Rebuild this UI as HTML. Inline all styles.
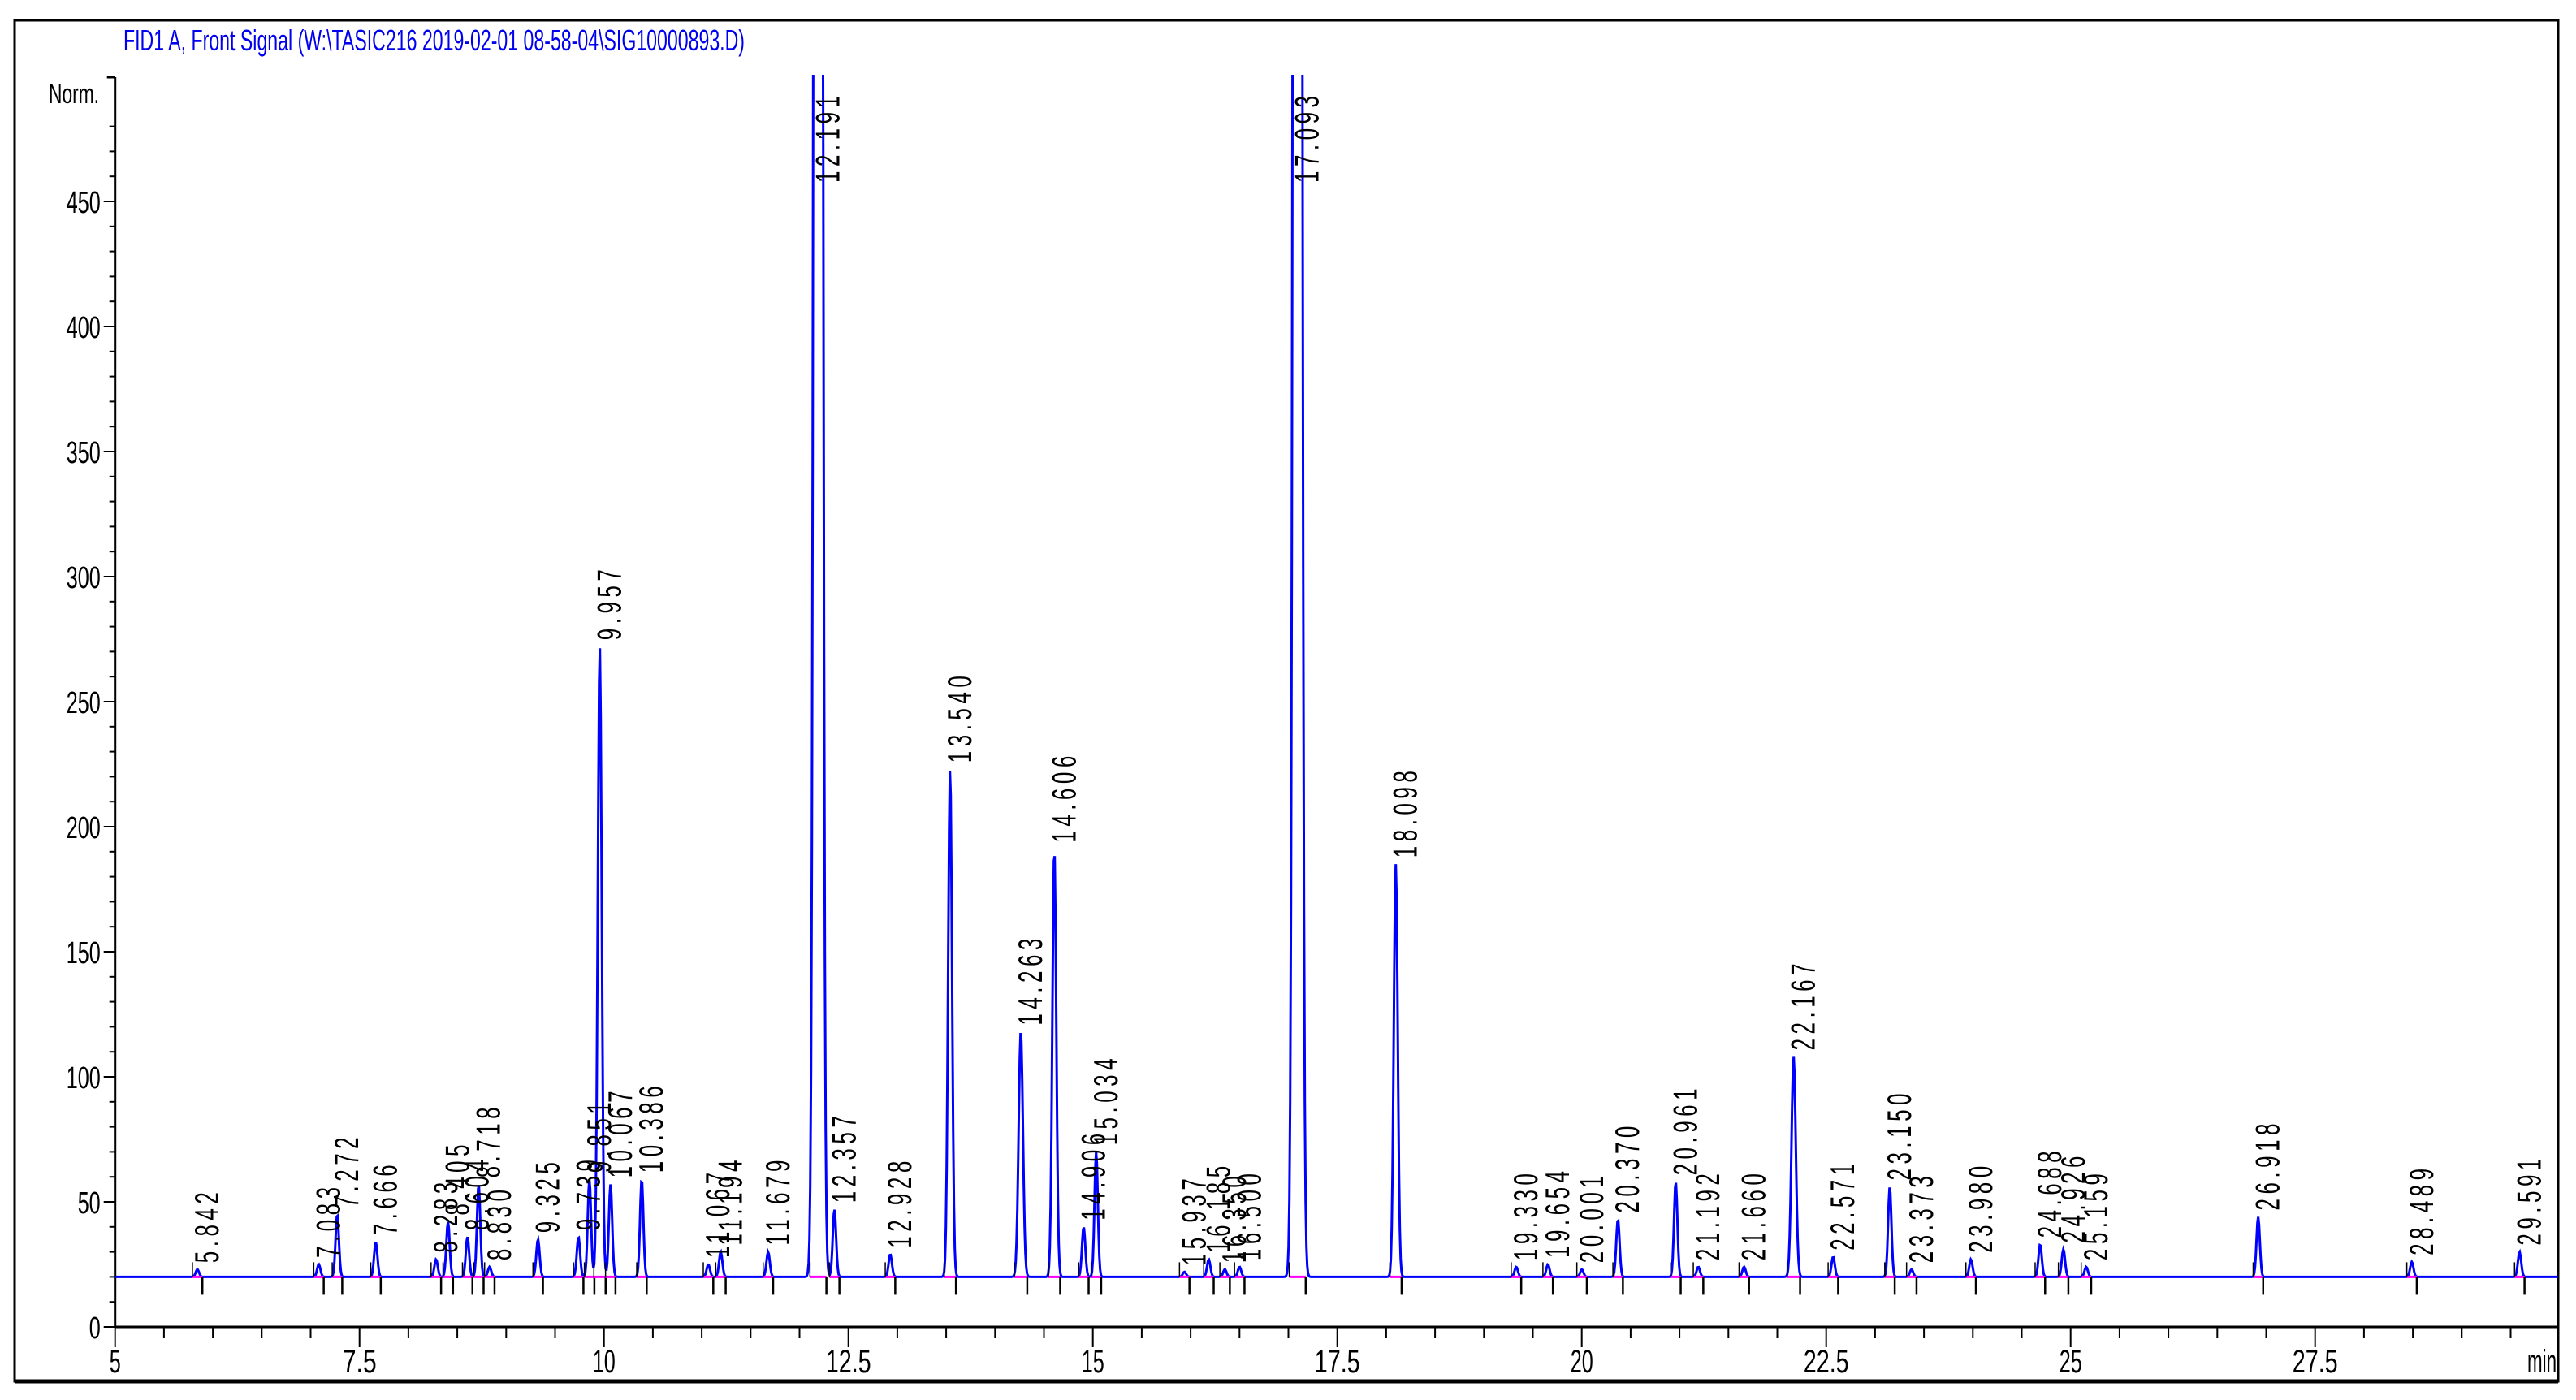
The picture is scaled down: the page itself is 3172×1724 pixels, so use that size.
<!DOCTYPE html>
<html><head><meta charset="utf-8"><style>
html,body{margin:0;padding:0;background:#fff}
svg{display:block}
text{font-family:"Liberation Sans",sans-serif}
</style></head><body>
<svg id="chart" width="3172" height="1724" viewBox="0 0 3172 1724" xmlns="http://www.w3.org/2000/svg">
<defs><clipPath id="plotclip"><rect x="140" y="92" width="3012" height="1560"/></clipPath></defs>
<rect x="0" y="0" width="3172" height="1724" fill="#fff"/>
<rect x="18" y="25" width="3132" height="1676" fill="none" stroke="#000" stroke-width="3"/>
<line x1="18" y1="1701" x2="3150" y2="1701" stroke="#000" stroke-width="5"/>
<text x="152" y="62" font-size="36" fill="#0000ee" textLength="765" lengthAdjust="spacingAndGlyphs">FID1 A, Front Signal (W:\TASIC216 2019-02-01 08-58-04\SIG10000893.D)</text>
<text x="60" y="127" font-size="34" fill="#000" textLength="62" lengthAdjust="spacingAndGlyphs">Norm.</text>
<g id="axes"></g>
<g id="marks"></g>
<g id="labels"></g>
</svg>
<script>
const peakTimes=[5.842,7.083,7.272,7.666,8.283,8.405,8.604,8.718,8.830,9.325,9.739,9.851,9.957,10.067,10.386,11.067,11.194,11.679,12.191,12.357,12.928,13.540,14.263,14.606,14.906,15.034,15.937,16.185,16.350,16.500,17.093,18.098,19.330,19.654,20.001,20.370,20.961,21.192,21.660,22.167,22.571,23.150,23.373,23.980,24.688,24.926,25.159,26.918,28.489,29.591];
const peakHeights=[23,25,45,34,27,42,36,57,24,35,36,59,272,57,59,25,30,30,2500,47,29,223,118,191,40,70,22,27,23,24,2500,185,24,25,23,43,58,24,24,108,28,56,23,27,33,31,24,44,26,30];
const peakLabels=["5.842","7.083","7.272","7.666","8.283","8.405","8.604","8.718","8.830","9.325","9.739","9.851","9.957","10.067","10.386","11.067","11.194","11.679","12.191","12.357","12.928","13.540","14.263","14.606","14.906","15.034","15.937","16.185","16.350","16.500","17.093","18.098","19.330","19.654","20.001","20.370","20.961","21.192","21.660","22.167","22.571","23.150","23.373","23.980","24.688","24.926","25.159","26.918","28.489","29.591"];
const baselineValue=20;
const yTicks=[0,50,100,150,200,250,300,350,400,450];
const xTicks=[5,7.5,10,12.5,15,17.5,20,22.5,25,27.5];

const NS="http://www.w3.org/2000/svg";
const X0=141.7, PXMIN=120.4, Y0=1634, PXU=3.08, TOP=95, XEND=3150;
const sx=t=>X0+(t-5)*PXMIN;
const sy=v=>Y0-v*PXU;
function mk(tag,attrs,parent){const e=document.createElementNS(NS,tag);for(const k in attrs)e.setAttribute(k,attrs[k]);parent.appendChild(e);return e;}
const axes=document.getElementById('axes');
const marks=document.getElementById('marks');
const labels=document.getElementById('labels');

const ya=mk('line',{x1:X0,y1:TOP,x2:X0,y2:Y0,stroke:'#000','stroke-width':3},axes);


const xa=mk('line',{x1:X0,y1:Y0,x2:XEND,y2:Y0,stroke:'#000','stroke-width':3},axes);


mk('line',{x1:X0-10,y1:TOP,x2:X0,y2:TOP,stroke:'#000','stroke-width':3},axes);
for(let v=0;v<=480;v+=10){const y=sy(v);if(y<TOP)break;const major=v%50===0;
  mk('line',{x1:X0-(major?14:7),y1:y,x2:X0,y2:y,stroke:'#000','stroke-width':2},axes);}
yTicks.forEach(v=>{const t=mk('text',{x:X0-18,y:sy(v)+14,'font-size':38,'text-anchor':'end',fill:'#000',textLength:String(v).length*14,lengthAdjust:'spacingAndGlyphs'},axes);t.textContent=v;
  
  });
for(let k=0;k<=50;k++){const t=5+k*0.5;const x=sx(t);if(x>XEND)break;const major=(k%5===0);
  mk('line',{x1:x,y1:Y0,x2:x,y2:Y0+(major?25:14),stroke:'#000','stroke-width':2},axes);}
xTicks.forEach(v=>{const t=mk('text',{x:sx(v),y:1690,'font-size':40,'text-anchor':'middle',fill:'#000',textLength:String(v).length*14,lengthAdjust:'spacingAndGlyphs'},axes);t.textContent=v;
  
  });
const mn=mk('text',{x:3148,y:1690,'font-size':40,'text-anchor':'end',fill:'#000',textLength:36,lengthAdjust:'spacingAndGlyphs'},axes);mn.textContent='min';



function sigma(i){const h=peakHeights[i];if(h>1000)return 0.028;if(h>150)return 0.02;if(h>80)return 0.022;return 0.017;}
let pts=[];
for(let x=X0;x<=XEND;x+=1){const t=5+(x-X0)/PXMIN;let v=baselineValue;
  for(let i=0;i<peakTimes.length;i++){const d=t-peakTimes[i];const s=sigma(i);if(Math.abs(d)<8*s)v+=(peakHeights[i]-baselineValue)*Math.exp(-d*d/(2*s*s));}
  let y=sy(v);if(y<-200)y=-200;pts.push(x.toFixed(1)+','+y.toFixed(1));}
const line=mk('polyline',{points:pts.join(' '),fill:'none',stroke:'#0000ff','stroke-width':3,'clip-path':'url(#plotclip)'},marks);



peakTimes.forEach((t,i)=>{const s=sigma(i);const xa=sx(t-3*s),xb=sx(t+3*s);const yb=sy(baselineValue);
  const seg=mk('line',{x1:xa,y1:yb,x2:xb,y2:yb,stroke:'#ff00ff','stroke-width':3},marks);
  
  
  mk('line',{x1:xa,y1:yb-18,x2:xa,y2:yb,stroke:'#000','stroke-width':1.5},marks);
  mk('line',{x1:xb,y1:yb,x2:xb,y2:yb+22,stroke:'#000','stroke-width':2.5},marks);
  let top=Math.max(sy(peakHeights[i]),TOP);
  const len=peakLabels[i].length*20;
  let bottom=top-8;
  if(bottom-len<105)bottom=105+len;
  const lx=sx(t)+26;
  const tx=mk('text',{x:0,y:0,'font-size':26,'letter-spacing':5.5,fill:'#000',transform:`translate(${lx.toFixed(1)},${bottom.toFixed(1)}) rotate(-90) scale(1,1.6)`},labels);
  tx.textContent=peakLabels[i];
  
  
});
</script>
</body></html>
